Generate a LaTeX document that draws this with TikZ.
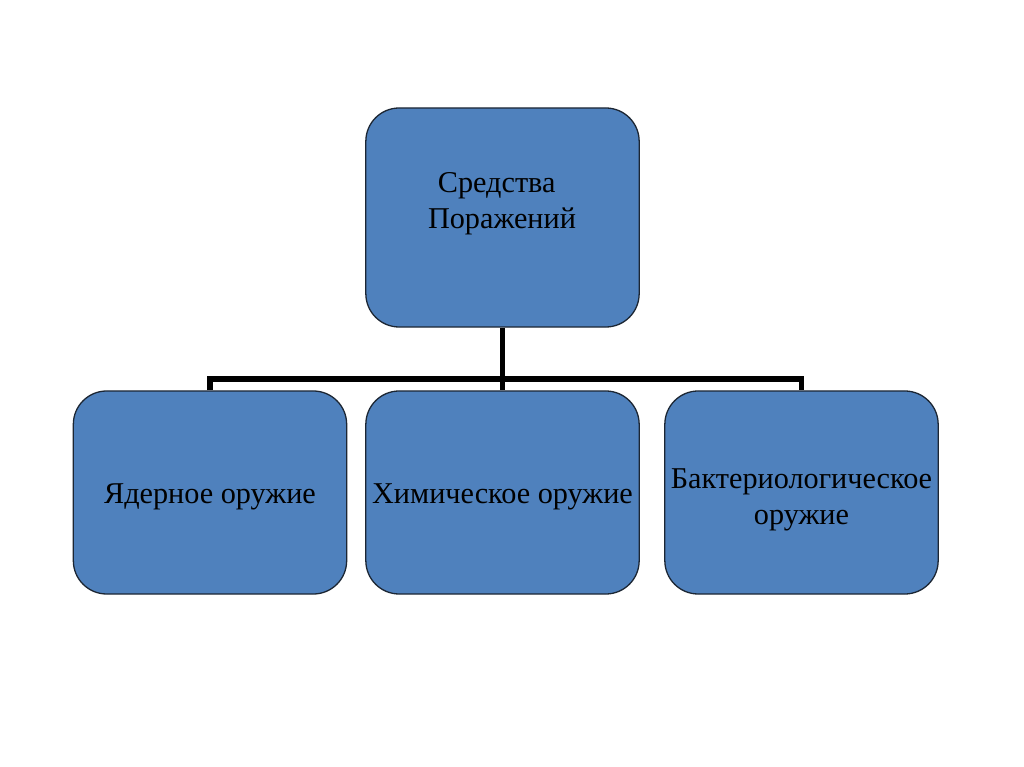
\documentclass[tikz,border=0pt]{standalone}
\usepackage{fontspec}
\setmainfont{Liberation Serif}
\usepackage{tikz}
\usetikzlibrary{positioning,calc}
\definecolor{boxblue}{HTML}{4F81BD}
\definecolor{boxline}{HTML}{1C2633}

\begin{document}
\begin{tikzpicture}[x=0.03cm, y=-0.03cm,
  box/.style={draw=boxline, fill=boxblue, rounded corners=1cm, line width=1.1pt, minimum width=8.2cm, inner sep=0pt},
  lbl/.style={font=\fontsize{25.8}{30.5}\selectfont, align=center, inner sep=0pt},
  conn/.style={line width=4.8pt, black}
]
\useasboundingbox (0,0) rectangle (1024,767);
\node[box, minimum height=6.57cm] (top)   at (502.5,217.5) {};
\node[box, minimum height=6.09cm] (nucl)  at (210,492.5) {};
\node[box, minimum height=6.09cm] (chem)  at (502.5,492.5) {};
\node[box, minimum height=6.09cm] (bact)  at (801.5,492.5) {};
\node[lbl] (toptxt)  at (502,204) {Средства\hspace*{0.35em}\\Поражений};
\node[lbl] (nucltxt) at (210,497) {Ядерное оружие};
\node[lbl] (chemtxt) at (502.5,497) {Химическое оружие};
\node[lbl] (bacttxt) at (801.5,500) {Бактериологическое\\оружие};
\coordinate (bar) at (502.5,379);
\draw[conn] (top.south) -- (bar);
\draw[conn] (bar) -- (chem.north);
\draw[conn] (nucl.north) |- (bar) -| (bact.north);
\end{tikzpicture}
\end{document}
